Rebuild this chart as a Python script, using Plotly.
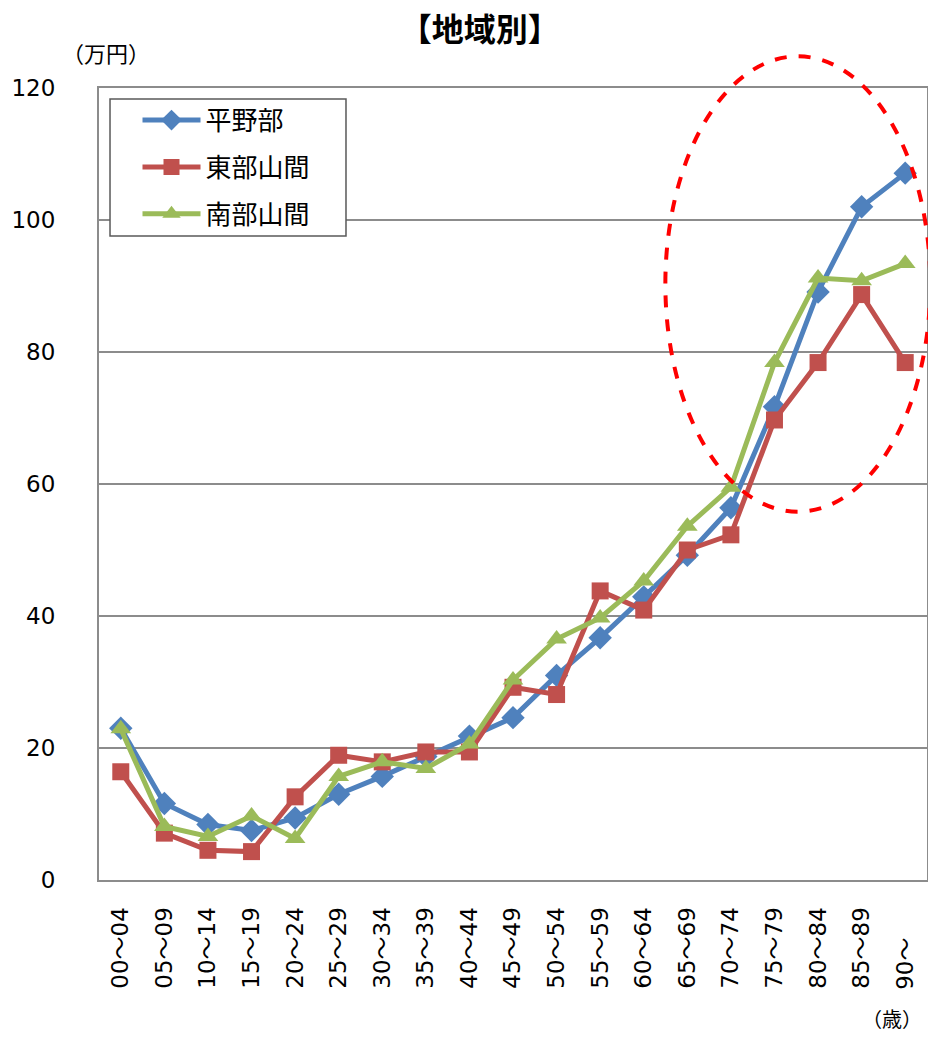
import plotly.graph_objects as go

ages = ["00～04", "05～09", "10～14", "15～19", "20～24", "25～29", "30～34",
        "35～39", "40～44", "45～49", "50～54", "55～59", "60～64", "65～69",
        "70～74", "75～79", "80～84", "85～89", "90～"]
# tick text (short last label padded so it sits lower, like the original)
tick_text = ages[:-1] + ["90～\u3000\u00a0"]

heiya = [23.0, 11.6, 8.4, 7.5, 9.4, 13.0, 15.7, 18.7, 21.8, 24.6, 31.0, 36.7,
         42.9, 49.2, 56.4, 71.7, 89.1, 102.0, 107.1]
tobu = [16.4, 7.1, 4.5, 4.3, 12.6, 18.9, 17.9, 19.4, 19.4, 29.2, 28.1, 43.8,
        40.9, 50.0, 52.3, 69.7, 78.4, 88.7, 78.4]
nanbu = [22.9, 8.1, 6.6, 9.7, 6.3, 15.7, 17.9, 16.9, 20.6, 30.3, 36.5, 39.7,
         45.3, 53.6, 59.5, 78.4, 91.2, 90.8, 93.4]

series_names = ["平野部", "東部山間", "南部山間"]
colors = ["#4F81BD", "#C0504D", "#9BBB59"]
symbols = ["diamond", "square", "triangle-up"]
sizes = [18, 17, 18]

font_family = "DejaVu Sans, Noto Sans CJK JP, sans-serif"
cjk_family = "Noto Sans CJK JP, sans-serif"

fig = go.Figure()
for name, vals, col, sym, sz in zip(series_names, [heiya, tobu, nanbu], colors, symbols, sizes):
    fig.add_trace(go.Scatter(
        x=ages, y=vals, name=name, legendgroup=name,
        mode="lines+markers",
        line=dict(color=col, width=5),
        marker=dict(symbol=sym, size=sz, color=col),
    ))

# legend frame (drawn as a shape so the legend can have inner padding)
fig.add_shape(
    type="rect", xref="paper", yref="paper",
    x0=0.0133, x1=0.2983, y0=0.8131, y1=0.9861,
    line=dict(color="#595959", width=1.5), fillcolor="white", layer="above",
)

# red dashed ellipse highlighting the elderly ages
fig.add_shape(
    type="circle", xref="paper", yref="paper",
    x0=0.684, x1=1.004, y0=0.465, y1=1.040,
    line=dict(color="#FF0000", width=4, dash="dash"),
)

fig.add_annotation(text="（万円）", xref="paper", yref="paper",
                   x=0.009, y=1.045, xanchor="center", yanchor="middle",
                   showarrow=False,
                   font=dict(size=22, color="#000000", family=cjk_family))
fig.add_annotation(text="（歳）", xref="paper", yref="paper",
                   x=0.958, y=-0.175, xanchor="center", yanchor="middle",
                   showarrow=False,
                   font=dict(size=20, color="#000000", family=cjk_family))

fig.update_xaxes(
    type="category", automargin=False, range=[-0.5, 18.5],
    tickmode="array", tickvals=ages, ticktext=tick_text,
    tickangle=-90,
    tickfont=dict(size=23, color="#000000"),
    showline=True, linecolor="#8C8C8C", linewidth=2, mirror=True,
    showgrid=False, ticks="", ticklabelstandoff=16,
)
fig.update_yaxes(
    range=[0, 120], dtick=20, automargin=False,
    tickfont=dict(size=23, color="#000000"),
    showgrid=True, gridcolor="#8C8C8C", gridwidth=1.5,
    showline=True, linecolor="#8C8C8C", linewidth=2, mirror=True,
    zeroline=False, ticks="", ticklabelstandoff=37,
)
fig.update_layout(
    width=928, height=1037,
    margin=dict(l=99, r=1, t=88, b=157),
    paper_bgcolor="white", plot_bgcolor="white",
    font=dict(family=font_family, color="#000000"),
    title=dict(text="<b>【地域別】</b>", x=0.517, xanchor="center",
               y=0.971, yanchor="middle",
               font=dict(size=32, family=cjk_family)),
    legend=dict(
        x=0.0465, y=0.989, xanchor="left", yanchor="top",
        bgcolor="rgba(0,0,0,0)", borderwidth=0,
        font=dict(size=26, family=cjk_family), tracegroupgap=10,
        itemwidth=58,
    ),
)

# drop the default page margin so the figure fills the window exactly
fig.write_html(
    "out.html",
    config={"displayModeBar": False},
    post_script="document.body.style.margin='0px';document.body.style.overflow='hidden';",
)
